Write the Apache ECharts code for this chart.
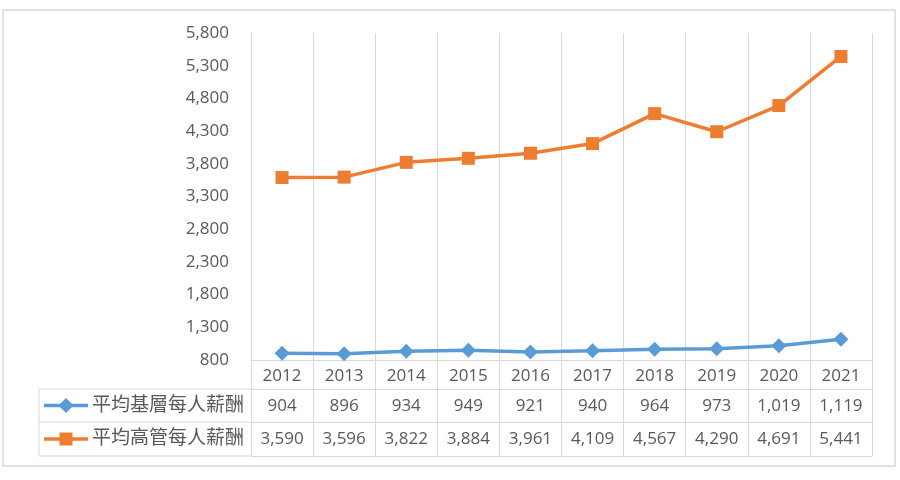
<!DOCTYPE html>
<html>
<head>
<meta charset="utf-8">
<script src="https://cdn.jsdelivr.net/npm/echarts@6/dist/echarts.min.js"></script>
<style>
  html, body { margin: 0; padding: 0; background: #fff; }
  #chart { width: 900px; height: 480px; }
</style>
</head>
<body>
<div id="chart"></div>
<script>
var years = ['2012', '2013', '2014', '2015', '2016', '2017', '2018', '2019', '2020', '2021'];
var baseName = '平均基層每人薪酬';
var execName = '平均高管每人薪酬';
var baseVals = [904, 896, 934, 949, 921, 940, 964, 973, 1019, 1119];
var execVals = [3590, 3596, 3822, 3884, 3961, 4109, 4567, 4290, 4691, 5441];

var FONT = '"Open Sans", "Noto Sans CJK TC", sans-serif';
var CJK = '"Noto Sans CJK TC", sans-serif';
var GRAY = '#d9d9d9';
var TXT = '#595959';
var BLUE = '#5b9bd5';
var ORANGE = '#ed7d31';

function fmt(v) {
  return Number(v).toLocaleString('en-US');
}

var chart = echarts.init(document.getElementById('chart'));

// 表格的每一行用一条带偏移的x轴来画
function rowAxis(offset, vals) {
  return {
    type: 'category',
    data: years,
    boundaryGap: true,
    offset: offset,
    position: 'bottom',
    axisLine: { show: true, lineStyle: { color: GRAY, width: 1 } },
    axisTick: { show: false },
    splitLine: { show: false },
    axisLabel: {
      show: !!vals,
      margin: 9,
      fontSize: 17,
      color: TXT,
      fontFamily: FONT,
      formatter: function (v, i) { return vals ? fmt(vals[i]) : ''; }
    }
  };
}

var option = {
  backgroundColor: '#fff',
  animation: false,
  grid: { left: 251, right: 28, top: 33, bottom: 120 },
  xAxis: [
    {
      type: 'category',
      data: years,
      boundaryGap: true,
      axisLine: { show: true, lineStyle: { color: GRAY, width: 1 } },
      axisTick: { show: true, length: 96, lineStyle: { color: GRAY, width: 1 } },
      splitLine: { show: true, lineStyle: { color: GRAY, width: 1 } },
      axisLabel: { margin: 8, fontSize: 17, color: TXT, fontFamily: FONT }
    },
    rowAxis(29, baseVals),
    rowAxis(62, execVals),
    rowAxis(96, null)
  ],
  yAxis: {
    type: 'value',
    min: 800,
    max: 5800,
    interval: 500,
    axisLine: { show: true, lineStyle: { color: GRAY } },
    axisTick: { show: false },
    splitLine: { show: false },
    axisLabel: {
      margin: 22,
      fontSize: 17,
      color: TXT,
      fontFamily: FONT,
      formatter: function (v) { return fmt(v); }
    }
  },
  series: [
    {
      name: baseName,
      type: 'line',
      data: baseVals,
      symbol: 'diamond',
      symbolSize: 15,
      lineStyle: { width: 3.5, color: BLUE },
      itemStyle: { color: BLUE }
    },
    {
      name: execName,
      type: 'line',
      data: execVals,
      symbol: 'rect',
      symbolSize: 13,
      lineStyle: { width: 3.5, color: ORANGE },
      itemStyle: { color: ORANGE }
    }
  ],
  graphic: [
    // 外框
    { type: 'rect', shape: { x: 3, y: 10, width: 892, height: 456 },
      style: { fill: null, stroke: GRAY, lineWidth: 1.5 } },
    // 图例列的表格线
    { type: 'line', shape: { x1: 39, y1: 389, x2: 251, y2: 389 }, style: { stroke: GRAY, lineWidth: 1 } },
    { type: 'line', shape: { x1: 39, y1: 422, x2: 251, y2: 422 }, style: { stroke: GRAY, lineWidth: 1 } },
    { type: 'line', shape: { x1: 39, y1: 456, x2: 251, y2: 456 }, style: { stroke: GRAY, lineWidth: 1 } },
    { type: 'line', shape: { x1: 39, y1: 389, x2: 39, y2: 456 }, style: { stroke: GRAY, lineWidth: 1 } },
    // 图例
    { type: 'line', shape: { x1: 44, y1: 405.5, x2: 88, y2: 405.5 }, style: { stroke: BLUE, lineWidth: 3.5 } },
    { type: 'polygon', shape: { points: [[66, 398], [73.5, 405.5], [66, 413], [58.5, 405.5]] }, style: { fill: BLUE } },
    { type: 'text', left: 92, top: 394, style: { text: baseName, font: '19px ' + CJK, fill: TXT } },
    { type: 'line', shape: { x1: 44, y1: 439, x2: 88, y2: 439 }, style: { stroke: ORANGE, lineWidth: 3.5 } },
    { type: 'rect', shape: { x: 59.5, y: 432.5, width: 13, height: 13 }, style: { fill: ORANGE } },
    { type: 'text', left: 92, top: 427.5, style: { text: execName, font: '19px ' + CJK, fill: TXT } }
  ]
};

chart.setOption(option);
</script>
</body>
</html>
